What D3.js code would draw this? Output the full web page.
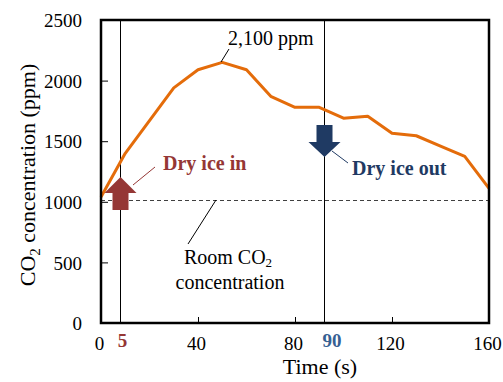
<!DOCTYPE html>
<html>
<meta charset="utf-8">
<title>CO2 concentration</title>
<style>
body { margin: 0; background: #fff; }
text { font-family: "Liberation Serif", "DejaVu Serif", serif; fill: #000; }
.tick text { font-size: 19px; }
.axis-title { font-size: 22px; }
.note { font-size: 20px; }
</style>
<body>
<div id="chart"></div>
<script src="https://cdn.jsdelivr.net/npm/d3@7"></script>
<script>
// data
var times = [0, 10, 20, 30, 40, 50, 60, 70, 80, 90, 100, 110, 120, 130, 140, 150, 160];
var co2 = [1040, 1400, 1670, 1940, 2090, 2150, 2090, 1870, 1780, 1780, 1690, 1705, 1565, 1545, 1460, 1375, 1110];
var xTicks = [0, 40, 80, 120, 160];
var yTicks = [0, 500, 1000, 1500, 2000, 2500];
var eventTimes = [8, 92];          // where the vertical lines sit
var eventLabels = ["5", "90"];
var roomLevel = 1015;

var width = 503, height = 382;
var margin = {top: 20, right: 14, bottom: 59, left: 101};

var svg = d3.select("#chart").append("svg")
    .attr("width", width)
    .attr("height", height);

var x = d3.scaleLinear().domain([0, 160]).range([margin.left, width - margin.right]);
var y = d3.scaleLinear().domain([0, 2500]).range([height - margin.bottom, margin.top]);

// axes, ticks pointing inwards
var yAxis = svg.append("g")
    .attr("transform", "translate(" + margin.left + ",0)")
    .call(d3.axisLeft(y).tickValues(yTicks).tickFormat(d3.format("d"))
      .tickSizeInner(-7).tickSizeOuter(0).tickPadding(19));
var xAxis = svg.append("g")
    .attr("transform", "translate(0," + (height - margin.bottom) + ")")
    .call(d3.axisBottom(x).tickValues(xTicks).tickFormat(d3.format("d"))
      .tickSizeInner(-6).tickSizeOuter(0).tickPadding(14));
svg.selectAll(".domain").remove();
svg.selectAll(".tick line").attr("stroke", "#000").attr("stroke-width", 1);
xAxis.selectAll(".tick text").attr("dx", -2);
yAxis.selectAll(".tick text").attr("dy", "0.35em");

// room level dashed line
svg.append("line")
    .attr("x1", x(0)).attr("x2", x(160))
    .attr("y1", Math.round(y(roomLevel)) + 0.5).attr("y2", Math.round(y(roomLevel)) + 0.5)
    .attr("stroke", "#404040").attr("stroke-width", 1.2)
    .attr("stroke-dasharray", "4,3");

// event lines
svg.selectAll(".evt").data(eventTimes).enter().append("line")
    .attr("class", "evt")
    .attr("x1", d => Math.round(x(d)) + 0.5).attr("x2", d => Math.round(x(d)) + 0.5)
    .attr("y1", y(2500)).attr("y2", y(0))
    .attr("stroke", "#000").attr("stroke-width", 1);

// the curve
var line = d3.line().x((d, i) => x(times[i])).y(d => y(d));
svg.append("path")
    .datum(co2)
    .attr("d", line)
    .attr("fill", "none")
    .attr("stroke", "#E46C0A")
    .attr("stroke-width", 3)
    .attr("stroke-linejoin", "round");

// plot frame
svg.append("rect")
    .attr("x", x(0)).attr("y", y(2500))
    .attr("width", x(160) - x(0)).attr("height", y(0) - y(2500))
    .attr("fill", "none").attr("stroke", "#000").attr("stroke-width", 2.5);

// event labels under the axis
var evtColors = ["#953735", "#366092"];
svg.selectAll(".evtlab").data(eventLabels).enter().append("text")
    .attr("x", (d, i) => x(eventTimes[i]) + (i == 0 ? 2 : 8))
    .attr("y", 347)
    .attr("text-anchor", "middle")
    .style("font-size", "19px")
    .style("font-weight", "bold")
    .style("fill", (d, i) => evtColors[i])
    .text(d => d);

// arrows
var inX = Math.round(x(eventTimes[0])) + 0.5, outX = Math.round(x(eventTimes[1])) + 0.5;
svg.append("path")
    .attr("d", "M" + inX + ",177 L" + (inX + 16) + ",193 L" + (inX + 8) + ",193 L" + (inX + 8) + ",210 L" +
        (inX - 8) + ",210 L" + (inX - 8) + ",193 L" + (inX - 16) + ",193 Z")
    .attr("fill", "#953735");
svg.append("path")
    .attr("d", "M" + outX + ",157 L" + (outX + 16) + ",142 L" + (outX + 8) + ",142 L" + (outX + 8) + ",125 L" +
        (outX - 8) + ",125 L" + (outX - 8) + ",142 L" + (outX - 16) + ",142 Z")
    .attr("fill", "#1F3A63");

// annotations with leader lines
function leader(x1, y1, x2, y2, c) {
  svg.append("line").attr("x1", x1).attr("y1", y1).attr("x2", x2).attr("y2", y2)
    .attr("stroke", c).attr("stroke-width", 1);
}
leader(155, 167, 133, 185, "#953735");
leader(332, 151, 348, 163, "#1F3A63");
leader(229, 49, 221, 62, "#000");
leader(216, 200, 188, 244, "#000");

svg.append("text").attr("class", "note")
    .attr("x", 163).attr("y", 170)
    .style("font-weight", "bold").style("fill", "#953735")
    .text("Dry ice in");
svg.append("text").attr("class", "note")
    .attr("x", 352).attr("y", 175)
    .style("font-weight", "bold").style("fill", "#1F3A63")
    .text("Dry ice out");
svg.append("text").attr("class", "note")
    .attr("x", 228).attr("y", 45)
    .text("2,100 ppm");

var room = svg.append("text").attr("class", "note")
    .attr("x", 228).attr("y", 264).attr("text-anchor", "middle");
room.append("tspan").text("Room CO");
room.append("tspan").attr("dy", 3).style("font-size", "13px").text("2");
svg.append("text").attr("class", "note")
    .attr("x", 230).attr("y", 289).attr("text-anchor", "middle")
    .text("concentration");

// axis titles
svg.append("text").attr("class", "axis-title")
    .attr("x", 320).attr("y", 374)
    .attr("text-anchor", "middle")
    .text("Time (s)");

var yt = svg.append("text").attr("class", "axis-title")
    .attr("transform", "translate(35,175) rotate(-90)")
    .attr("text-anchor", "middle");
yt.append("tspan").text("CO");
yt.append("tspan").attr("dy", 5).style("font-size", "15px").text("2");
yt.append("tspan").attr("dy", -5).text(" concentration (ppm)");
</script>
</body>
</html>
